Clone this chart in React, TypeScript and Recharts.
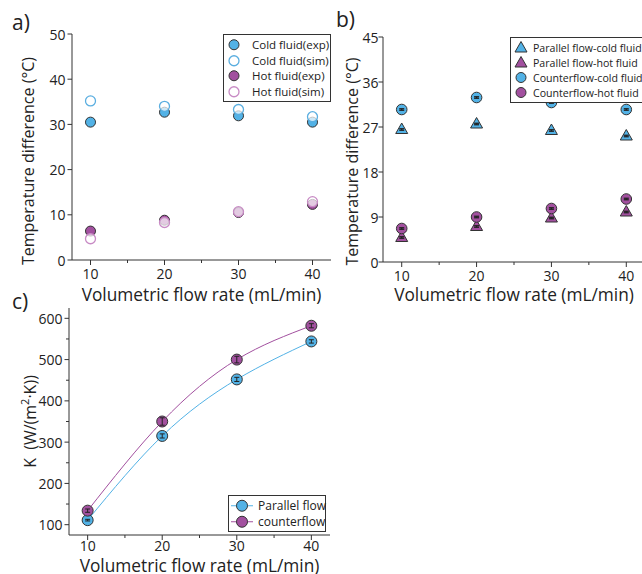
import {
  ScatterChart,
  ComposedChart,
  Scatter,
  Line,
  XAxis,
  YAxis,
  ErrorBar,
  Legend,
  Label,
} from "recharts";

// flow rates (mL/min)
const flowRates = [10, 20, 30, 40];

// a) temperature difference, exp vs sim
const coldExp = [30.5, 32.7, 31.9, 30.5];
const coldSim = [35.2, 34.0, 33.3, 31.7];
const hotExp = [6.4, 8.8, 10.5, 12.3];
const hotSim = [4.7, 8.3, 10.7, 12.9];

// b) parallel vs counterflow
const parallelCold = [26.5, 27.6, 26.3, 25.2];
const parallelHot = [4.9, 7.1, 8.8, 10.0];
const counterCold = [30.5, 32.9, 31.9, 30.5];
const counterHot = [6.7, 9.0, 10.7, 12.6];
const tempErr = [0.15, 0.15, 0.15, 0.15];

// c) overall heat transfer coefficient
const kParallel = [111, 315, 452, 544];
const kCounter = [134, 350, 500, 582];
const kParallelErr = [2, 5, 5, 4];
const kCounterErr = [4, 9, 8, 5];

const xTicks = [10, 15, 20, 25, 30, 35, 40];
const yTicksA = [0, 10, 20, 30, 40, 50];
const yTicksB = [0, 9, 18, 27, 36, 45];
const yTicksC = [100, 150, 200, 250, 300, 350, 400, 450, 500, 550, 600];

const BLUE = "#52b2e6";
const PURPLE = "#a2509f";
const BLUE_SIM = "#5aaee0";
const PINK_SIM = "#c88bc5";
const INK = "#222";
const AXIS = "#333";
const FONT = '"Open Sans", sans-serif';

const pts = (vals: number[], err?: number[]) =>
  flowRates.map((x, i) => ({ x, y: vals[i], err: err ? err[i] : 0 }));

const kTable = flowRates.map((x, i) => ({
  x,
  parallel: kParallel[i],
  counter: kCounter[i],
  pErr: kParallelErr[i],
  cErr: kCounterErr[i],
}));

const XTick = (major: (v: number) => boolean, gap: number) => (props: any) => {
  const { x, y, payload } = props;
  const isMajor = major(payload.value);
  return (
    <g>
      <line x1={x} y1={y} x2={x} y2={y + (isMajor ? 5 : 3)} stroke={AXIS} />
      {isMajor && (
        <text x={x} y={y + gap} textAnchor="middle" dominantBaseline="central" fontSize={14} fill={INK} fontFamily={FONT}>
          {payload.value}
        </text>
      )}
    </g>
  );
};

const YTick = (major: (v: number) => boolean, gap: number) => (props: any) => {
  const { x, y, payload } = props;
  const isMajor = major(payload.value);
  return (
    <g>
      <line x1={x} y1={y} x2={x - (isMajor ? 4.5 : 3)} y2={y} stroke={AXIS} />
      {isMajor && (
        <text x={x - gap} y={y} textAnchor="end" dominantBaseline="central" fontSize={14} fill={INK} fontFamily={FONT}>
          {payload.value}
        </text>
      )}
    </g>
  );
};

const xTitle = (dy: number) => (props: any) => {
  const { x, y, width } = props.viewBox;
  return (
    <text x={x + width / 2} y={y + dy} textAnchor="middle" dominantBaseline="central" fontSize={17.3} fill={INK} fontFamily={FONT}>
      Volumetric flow rate (mL/min)
    </text>
  );
};

const yTitle = (cx: number, dy: number, kind: "t" | "k") => (props: any) => {
  const { y, height } = props.viewBox;
  const cy = y + height / 2 + dy;
  return (
    <text
      x={cx}
      y={cy}
      transform={`rotate(-90 ${cx} ${cy})`}
      textAnchor="middle"
      dominantBaseline="central"
      fontSize={16}
      fill={INK}
      fontFamily={FONT}
    >
      {kind === "t" ? (
        "Temperature difference (°C)"
      ) : (
        <>
          {"K\u00a0\u00a0(W/(m"}
          <tspan fontSize={11} dy={-6}>2</tspan>
          <tspan dy={6}>·K))</tspan>
        </>
      )}
    </text>
  );
};

const dot = (fill: string, stroke: string, r = 5, fillOpacity = 1, sw = 1) => (p: any) =>
  <circle cx={p.cx} cy={p.cy} r={r} fill={fill} fillOpacity={fillOpacity} stroke={stroke} strokeWidth={sw} />;

const tri = (fill: string) => (p: any) => {
  const { cx, cy } = p;
  return (
    <path
      d={`M${cx},${cy - 6.5} L${cx + 6},${cy + 4} L${cx - 6},${cy + 4} Z`}
      fill={fill}
      stroke={AXIS}
      strokeWidth={1}
    />
  );
};

const nothing = () => <g />;

type Item = { label: string; marker: "circle" | "open" | "tri" | "line"; color: string };

function LegendBox({
  items,
  width,
  rowH,
  fontSize,
  iconW,
  gap,
}: {
  items: Item[];
  width: number;
  rowH: number;
  fontSize: number;
  iconW: number;
  gap: number;
}) {
  const c = iconW / 2;
  return (
    <div
      style={{
        border: `1px solid ${AXIS}`,
        background: "#fff",
        width,
        padding: "2px 0",
        fontFamily: FONT,
        fontSize,
        color: INK,
      }}
    >
      {items.map((it) => (
        <div key={it.label} style={{ display: "flex", alignItems: "center", height: rowH, whiteSpace: "nowrap" }}>
          <svg width={iconW} height={rowH} style={{ flex: "none" }}>
            {it.marker === "line" && (
              <>
                <line x1={2} x2={iconW - 2} y1={rowH / 2} y2={rowH / 2} stroke={it.color} />
                <circle cx={c} cy={rowH / 2} r={5.5} fill={it.color} stroke={AXIS} />
              </>
            )}
            {it.marker === "circle" && <circle cx={c} cy={rowH / 2} r={5} fill={it.color} stroke={AXIS} />}
            {it.marker === "open" && <circle cx={c} cy={rowH / 2} r={5} fill="#fff" stroke={it.color} strokeWidth={1.3} />}
            {it.marker === "tri" && (
              <path
                d={`M${c},${rowH / 2 - 6} L${c + 6},${rowH / 2 + 4.5} L${c - 6},${rowH / 2 + 4.5} Z`}
                fill={it.color}
                stroke={AXIS}
              />
            )}
          </svg>
          <span style={{ marginLeft: gap }}>{it.label}</span>
        </div>
      ))}
    </div>
  );
}

const legendA: Item[] = [
  { label: "Cold fluid(exp)", marker: "circle", color: BLUE },
  { label: "Cold fluid(sim)", marker: "open", color: BLUE_SIM },
  { label: "Hot fluid(exp)", marker: "circle", color: PURPLE },
  { label: "Hot fluid(sim)", marker: "open", color: PINK_SIM },
];
const legendB: Item[] = [
  { label: "Parallel flow-cold fluid", marker: "tri", color: BLUE },
  { label: "Parallel flow-hot fluid", marker: "tri", color: PURPLE },
  { label: "Counterflow-cold fluid", marker: "circle", color: BLUE },
  { label: "Counterflow-hot fluid", marker: "circle", color: PURPLE },
];
const legendC: Item[] = [
  { label: "Parallel flow", marker: "line", color: BLUE },
  { label: "counterflow", marker: "line", color: PURPLE },
];

const frame = (xDomain: number[], yDomain: number[]) => [
  <XAxis key="top" xAxisId="top" orientation="top" type="number" dataKey="x" domain={xDomain} height={0} tick={false} tickLine={false} stroke={AXIS} allowDataOverflow />,
  <YAxis key="right" yAxisId="right" orientation="right" type="number" domain={yDomain} width={0} tick={false} tickLine={false} stroke={AXIS} allowDataOverflow />,
];

const panelLabel = (text: string, left: number, top: number) => (
  <div style={{ position: "absolute", left, top, fontSize: 21, fontFamily: FONT, color: INK, lineHeight: 1 }}>{text}</div>
);

const errBar = (key: string, sw: number) => (
  <ErrorBar dataKey={key} direction="y" width={2.5} stroke={INK} strokeWidth={sw} zIndex={2000} />
);

export default function App() {
  const xMajor = (v: number) => v % 10 === 0;
  return (
    <div
      style={{
        position: "absolute",
        left: 0,
        top: 0,
        width: 642,
        height: 574,
        overflow: "hidden",
        background: "#fff",
        fontFamily: FONT,
      }}
    >
      {/* a) */}
      <div style={{ position: "absolute", left: 0, top: 0 }}>
        <ScatterChart width={340} height={310} margin={{ top: 34, right: 9, left: 0, bottom: 0 }}>
          <XAxis
            type="number"
            dataKey="x"
            domain={[7.5, 42.5]}
            ticks={xTicks}
            interval={0}
            height={50}
            tickSize={0}
            tickMargin={0}
            tick={XTick(xMajor, 13)}
            stroke={AXIS}
          >
            <Label content={xTitle(34)} />
          </XAxis>
          <YAxis
            type="number"
            dataKey="y"
            domain={[0, 50]}
            ticks={yTicksA}
            interval={0}
            width={72}
            tickSize={0}
            tickMargin={0}
            tick={YTick(() => true, 6.5)}
            stroke={AXIS}
          >
            <Label content={yTitle(28, 14, "t")} />
          </YAxis>
          {frame([7.5, 42.5], [0, 50])}
          <Scatter data={pts(coldExp)} shape={dot(BLUE, AXIS)} isAnimationActive={false} />
          <Scatter data={pts(coldSim)} shape={dot("#fff", BLUE_SIM, 5, 0.7, 1.3)} isAnimationActive={false} />
          <Scatter data={pts(hotExp)} shape={dot(PURPLE, AXIS)} isAnimationActive={false} />
          <Scatter data={pts(hotSim)} shape={dot("#fff", PINK_SIM, 5, 0.7, 1.3)} isAnimationActive={false} />
          <Legend
            layout="vertical"
            align="center"
            verticalAlign="middle"
            wrapperStyle={{ left: 223, top: 34, width: 108 }}
            content={() => <LegendBox items={legendA} width={106} rowH={15.5} fontSize={11.5} iconW={20} gap={8} />}
          />
        </ScatterChart>
      </div>
      {panelLabel("a)", 12, 12)}

      {/* b) */}
      <div style={{ position: "absolute", left: 330, top: 0 }}>
        <ScatterChart width={330} height={310} margin={{ top: 37, right: 15, left: 0, bottom: 0 }}>
          <XAxis
            type="number"
            dataKey="x"
            domain={[7.5, 42.5]}
            ticks={xTicks}
            interval={0}
            height={48}
            tickSize={0}
            tickMargin={0}
            tick={XTick(xMajor, 13)}
            stroke={AXIS}
          >
            <Label content={xTitle(32)} />
          </XAxis>
          <YAxis
            type="number"
            dataKey="y"
            domain={[0, 45]}
            ticks={yTicksB}
            interval={0}
            width={53}
            tickSize={0}
            tickMargin={0}
            tick={YTick(() => true, 4.5)}
            stroke={AXIS}
          >
            <Label content={yTitle(22, 12, "t")} />
          </YAxis>
          {frame([7.5, 42.5], [0, 45])}
          <Scatter data={pts(parallelCold, tempErr)} shape={tri(BLUE)} isAnimationActive={false} />
          <Scatter data={pts(parallelHot, tempErr)} shape={tri(PURPLE)} isAnimationActive={false} />
          <Scatter data={pts(counterCold, tempErr)} shape={dot(BLUE, AXIS, 5.3)} isAnimationActive={false} />
          <Scatter data={pts(counterHot, tempErr)} shape={dot(PURPLE, AXIS, 5.3)} isAnimationActive={false} />
          <Scatter data={pts(parallelCold, tempErr)} shape={nothing} isAnimationActive={false}>
            {errBar("err", 1.3)}
          </Scatter>
          <Scatter data={pts(parallelHot, tempErr)} shape={nothing} isAnimationActive={false}>
            {errBar("err", 1.3)}
          </Scatter>
          <Scatter data={pts(counterCold, tempErr)} shape={nothing} isAnimationActive={false}>
            {errBar("err", 1.3)}
          </Scatter>
          <Scatter data={pts(counterHot, tempErr)} shape={nothing} isAnimationActive={false}>
            {errBar("err", 1.3)}
          </Scatter>
          <Legend
            layout="vertical"
            align="center"
            verticalAlign="middle"
            wrapperStyle={{ left: 180, top: 37, width: 150 }}
            content={() => <LegendBox items={legendB} width={150} rowH={15} fontSize={10.6} iconW={20} gap={2} />}
          />
        </ScatterChart>
      </div>
      {panelLabel("b)", 336, 9)}

      {/* c) */}
      <div style={{ position: "absolute", left: 0, top: 300 }}>
        <ComposedChart data={kTable} width={340} height={284} margin={{ top: 8, right: 10, left: 0, bottom: 10 }}>
          <XAxis
            type="number"
            dataKey="x"
            domain={[7.5, 42.5]}
            ticks={xTicks}
            interval={0}
            height={39}
            tickSize={0}
            tickMargin={0}
            tick={XTick(xMajor, 10.5)}
            stroke={AXIS}
          >
            <Label content={xTitle(30)} />
          </XAxis>
          <YAxis
            type="number"
            domain={[75, 625]}
            ticks={yTicksC}
            interval={0}
            width={69}
            tickSize={0}
            tickMargin={0}
            tick={YTick((v) => v % 100 === 0, 6.5)}
            stroke={AXIS}
          >
            <Label content={yTitle(30, 0, "k")} />
          </YAxis>
          {frame([7.5, 42.5], [75, 625])}
          <Line
            dataKey="parallel"
            type="natural"
            stroke={BLUE}
            strokeWidth={1}
            dot={dot(BLUE, AXIS, 5.5)}
            activeDot={false}
            isAnimationActive={false}
          />
          <Line
            dataKey="counter"
            type="natural"
            stroke={PURPLE}
            strokeWidth={1}
            dot={dot(PURPLE, AXIS, 5.5)}
            activeDot={false}
            isAnimationActive={false}
          />
          <Line dataKey="parallel" stroke="none" dot={false} activeDot={false} isAnimationActive={false} legendType="none">
            {errBar("pErr", 1)}
          </Line>
          <Line dataKey="counter" stroke="none" dot={false} activeDot={false} isAnimationActive={false} legendType="none">
            {errBar("cErr", 1)}
          </Line>
          <Legend
            layout="vertical"
            align="center"
            verticalAlign="middle"
            wrapperStyle={{ left: 228, top: 195, width: 98 }}
            content={() => <LegendBox items={legendC} width={96} rowH={15.5} fontSize={12} iconW={26} gap={3} />}
          />
        </ComposedChart>
      </div>
      {panelLabel("c)", 12, 291)}
    </div>
  );
}
